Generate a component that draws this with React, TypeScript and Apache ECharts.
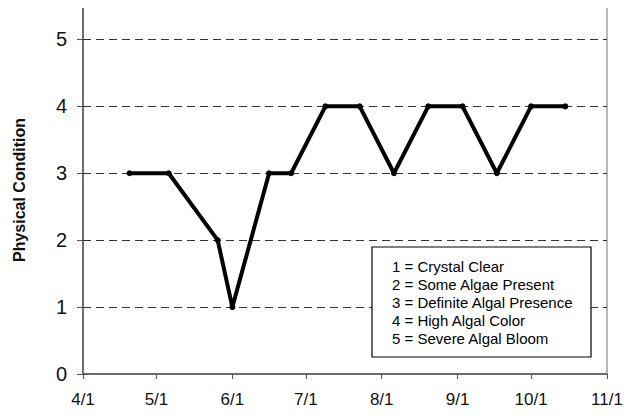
import React, { useEffect, useRef } from "react";
import * as echarts from "echarts";

const YEAR = 2006;
const sampleDates: [number, number][] = [
  [4, 20], [5, 6], [5, 26], [6, 1], [6, 16], [6, 25], [7, 9],
  [7, 23], [8, 6], [8, 20], [9, 3], [9, 17], [10, 1], [10, 15],
];
const conditionValues = [3, 3, 2, 1, 3, 3, 4, 4, 3, 4, 4, 3, 4, 4];
const monthTicks = [4, 5, 6, 7, 8, 9, 10, 11];
const yTicks = [0, 1, 2, 3, 4, 5];
const legendLines = [
  "1 = Crystal Clear",
  "2 = Some Algae Present",
  "3 = Definite Algal Presence",
  "4 = High Algal Color",
  "5 = Severe Algal Bloom",
];

const ts = (m: number, d: number) => new Date(YEAR, m - 1, d).getTime();

export default function App() {
  const ref = useRef<HTMLDivElement>(null);
  useEffect(() => {
    if (!ref.current) return;
    const chart = echarts.init(ref.current, null, { renderer: "svg" });
    const font = "'Liberation Sans', Arial, sans-serif";
    const data = sampleDates.map(([m, d], i) => [ts(m, d), conditionValues[i]]);
    const tickVals = monthTicks.map((m) => ts(m, 1));
    chart.setOption({
      animation: false,
      backgroundColor: "#fff",
      textStyle: { fontFamily: font },
      grid: {
        left: 83, right: 32, top: 6, bottom: 42,
        show: true, borderColor: "#a0a0a0", borderWidth: 1.5,
        backgroundColor: "transparent",
      },
      xAxis: {
        type: "value",
        min: ts(4, 1),
        max: ts(11, 1),
        axisLine: { show: true, lineStyle: { color: "#555", width: 1.5 } },
        axisTick: { show: true, length: 5, lineStyle: { color: "#555", width: 1 }, customValues: tickVals },
        axisLabel: {
          customValues: tickVals,
          fontSize: 17, color: "#111", margin: 17, fontFamily: font,
          formatter: (v: number) => {
            const d = new Date(v);
            return `${d.getMonth() + 1}/${d.getDate()}`;
          },
        },
        splitLine: { show: false },
      },
      yAxis: [
        {
          type: "value",
          min: 0,
          max: 5.5,
          interval: 1,
          name: "Physical Condition",
          nameLocation: "middle",
          nameGap: 56,
          nameRotate: 90,
          nameTextStyle: { fontSize: 16, fontWeight: "bold", color: "#111", fontFamily: font },
          axisLine: { show: true, lineStyle: { color: "#555", width: 1.5 } },
          axisTick: { show: true, length: 6, inside: false, lineStyle: { color: "#555" }, customValues: yTicks },
          axisLabel: { customValues: yTicks, fontSize: 20, color: "#111", margin: 16, fontFamily: font },
          splitLine: { show: false },
        },
        {
          type: "value",
          position: "left",
          min: 0,
          max: 5.5,
          interval: 1,
          axisLine: { show: false },
          axisTick: { show: true, length: 6, inside: true, lineStyle: { color: "#555" }, customValues: yTicks },
          axisLabel: { show: false },
          splitLine: { show: false },
        },
      ],
      series: [
        {
          type: "line",
          data,
          symbol: "circle",
          symbolSize: 6,
          itemStyle: { color: "#000" },
          lineStyle: { color: "#000", width: 4 },
          z: 5,
          markLine: {
            silent: true,
            symbol: "none",
            label: { show: false },
            lineStyle: { color: "#333", type: [8, 5], width: 1 },
            data: yTicks.filter((v) => v > 0).map((v) => ({ yAxis: v })),
            z: 1,
          },
        },
      ],
      graphic: [
        {
          type: "rect",
          shape: { x: 372, y: 247, width: 219, height: 110 },
          style: { fill: "#fff", stroke: "#000", lineWidth: 1.2 },
          z: 100,
        },
        ...legendLines.map((t, i) => ({
          type: "text",
          x: 392,
          y: 259 + i * 18,
          style: { text: t, font: `15px ${font}`, fill: "#000" },
          z: 101,
        })),
      ],
    });
    return () => chart.dispose();
  }, []);
  return <div ref={ref} style={{ width: 639, height: 416, margin: -8 }} />;
}
